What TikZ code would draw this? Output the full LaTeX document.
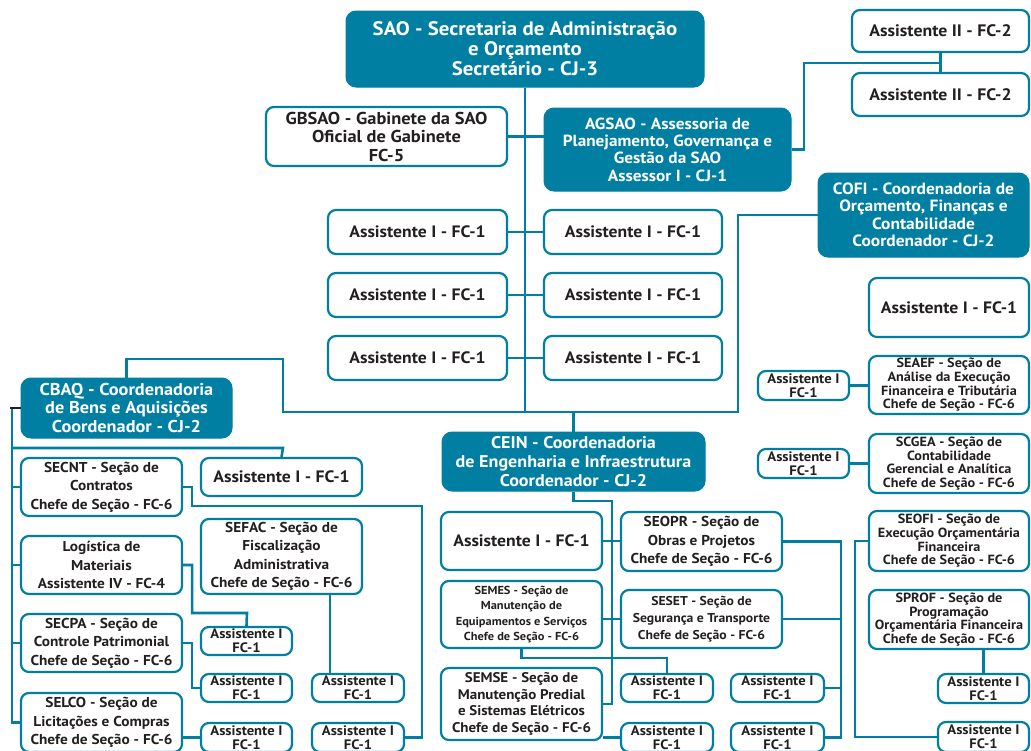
\documentclass[tikz,border=0pt]{standalone}
\usepackage{fontspec}
\setmainfont{PT Sans}[FakeStretch=1.07]
\usetikzlibrary{calc,backgrounds}
\definecolor{orgteal}{RGB}{0,127,163}
\definecolor{ink}{RGB}{35,31,32}

% box given by its corners (x1,y1)-(x2,y2), y measured downwards
\newcommand\orgbox[7]{%
  \pgfmathsetmacro\obW{#5-#3-2}\pgfmathsetmacro\obH{#6-#4-2}%
  \pgfmathsetmacro\obX{(#3+#5)/2}\pgfmathsetmacro\obY{(#4+#6)/2}%
  \node[#1, minimum width=\obW pt, minimum height=\obH pt] (#2) at (\obX,\obY) {#7};}
\newcommand\fs[2]{\fontsize{#1}{#2}\selectfont\bfseries}

\tikzset{
  wbox/.style={draw=orgteal, line width=2.2pt, rounded corners=8pt, fill=white,
    text=ink, align=center, inner sep=0pt},
  tbox/.style={draw=orgteal, line width=1pt, fill=orgteal, rounded corners=10pt,
    text=white, align=center, inner sep=0pt},
  link/.style={draw=orgteal, line width=2.6pt},
  big/.style={font=\fs{16.5}{19}},
  sec/.style={font=\fs{14.3}{18.5}},
  sub/.style={font=\fs{13.3}{13.7}},
  small/.style={font=\fs{13.7}{14}},
}

\begin{document}
\begin{tikzpicture}[x=1pt, y=-1pt]
\useasboundingbox (0,0) rectangle (1031,750);
\clip (0,0) rectangle (1031,750);

% ---- junction points of the connectors ----
\coordinate (hub) at (525,412);
\coordinate (cR) at (841,0);
\coordinate (cF) at (330,0);
\coordinate (cL) at (247,613);
\coordinate (cS) at (422,506);
\coordinate (cT) at (12,408);
\coordinate (cA) at (283,448);
\coordinate (cG) at (804,63);
\coordinate (cB) at (283,359);
\coordinate (cC) at (738,412);
\coordinate (cE) at (612,501);
\coordinate (cO) at (855,0);

% ---- top level ----
\orgbox{tbox, font=\fs{19.5}{20}}{sao}{345}{10}{705}{88}{SAO - Secretaria de Administração\\e Orçamento\\Secretário - CJ-3}
\orgbox{wbox, font=\fs{17.2}{18.5}}{gbsao}{265}{106}{508}{167}{GBSAO - Gabinete da SAO\\Oficial de Gabinete\\FC-5}
\orgbox{tbox, font=\fs{16.1}{17.3}}{agsao}{543}{107}{792}{192}{AGSAO - Assessoria de\\Planejamento, Governança e\\Gestão da SAO\\Assessor I - CJ-1}
\orgbox{wbox, font=\fs{16.6}{18}}{asA}{851}{9}{1030}{53}{Assistente II - FC-2}
\orgbox{wbox, font=\fs{16.6}{18}}{asB}{851}{72}{1030}{117}{Assistente II - FC-2}
\orgbox{tbox, font=\fs{16.3}{17.5}}{cofi}{817}{172}{1030}{258}{COFI - Coordenadoria de\\Orçamento, Finanças e\\Contabilidade\\Coordenador - CJ-2}
\orgbox{wbox, big}{asC}{868}{277}{1030}{338}{Assistente I - FC-1}

\orgbox{wbox, big}{a1l}{327}{209}{508}{255}{Assistente I - FC-1}
\orgbox{wbox, big}{a1r}{543}{209}{723}{255}{Assistente I - FC-1}
\orgbox{wbox, big}{a2l}{327}{272}{508}{318}{Assistente I - FC-1}
\orgbox{wbox, big}{a2r}{543}{272}{723}{318}{Assistente I - FC-1}
\orgbox{wbox, big}{a3l}{327}{335}{508}{381}{Assistente I - FC-1}
\orgbox{wbox, big}{a3r}{543}{335}{723}{381}{Assistente I - FC-1}

% ---- CBAQ ----
\orgbox{tbox, font=\fs{17.1}{18.5}}{cbaq}{20}{377}{233}{439}{CBAQ - Coordenadoria\\de Bens e Aquisições\\Coordenador - CJ-2}
\orgbox{wbox, big}{asq}{200}{457}{363}{497}{Assistente I - FC-1}
\orgbox{wbox, sec}{secnt}{20}{457}{183}{517}{SECNT - Seção de\\Contratos\\Chefe de Seção - FC-6}
\orgbox{wbox, sec}{logi}{20}{535}{183}{595}{Logística de\\Materiais\\Assistente IV - FC-4}
\orgbox{wbox, sec}{secpa}{20}{613}{183}{673}{SECPA - Seção de\\Controle Patrimonial\\Chefe de Seção - FC-6}
\orgbox{wbox, sec}{selco}{20}{692}{183}{753}{SELCO - Seção de\\Licitações e Compras\\Chefe de Seção - FC-6}
\orgbox{wbox, sec}{sefac}{200}{518}{363}{595}{SEFAC - Seção de\\Fiscalização\\Administrativa\\Chefe de Seção - FC-6}
\orgbox{wbox, small}{b1}{200}{626}{293}{656}{Assistente I\\FC-1}
\orgbox{wbox, small}{b2}{200}{673}{293}{703}{Assistente I\\FC-1}
\orgbox{wbox, small}{b3}{200}{722}{293}{753}{Assistente I\\FC-1}
\orgbox{wbox, small}{b4}{311}{673}{405}{703}{Assistente I\\FC-1}
\orgbox{wbox, small}{b5}{311}{722}{405}{753}{Assistente I\\FC-1}

% ---- CEIN ----
\orgbox{tbox, font=\fs{16.9}{19}}{cein}{441}{431}{706}{492}{CEIN - Coordenadoria\\de Engenharia e Infraestrutura\\Coordenador - CJ-2}
\orgbox{wbox, big}{asE}{440}{511}{603}{571}{Assistente I - FC-1}
\orgbox{wbox, font=\fs{11.6}{15.5}}{semes}{440}{580}{603}{649}{SEMES - Seção de\\Manutenção de\\Equipamentos e Serviços\\Chefe de Seção - FC-6}
\orgbox{wbox, font=\fs{14}{16.5}}{semse}{440}{667}{603}{741}{SEMSE - Seção de\\Manutenção Predial\\e Sistemas Elétricos\\Chefe de Seção - FC-6}
\orgbox{wbox, sec}{seopr}{620}{511}{783}{572}{SEOPR - Seção de\\Obras e Projetos\\Chefe de Seção - FC-6}
\orgbox{wbox, font=\fs{12.8}{17}}{seset}{620}{589}{783}{649}{SESET - Seção de\\Segurança e Transporte\\Chefe de Seção - FC-6}
\orgbox{wbox, small}{b6}{620}{673}{714}{703}{Assistente I\\FC-1}
\orgbox{wbox, small}{b7}{620}{722}{714}{753}{Assistente I\\FC-1}
\orgbox{wbox, small}{b8}{730}{673}{825}{703}{Assistente I\\FC-1}
\orgbox{wbox, small}{b9}{730}{722}{825}{753}{Assistente I\\FC-1}

% ---- COFI sections ----
\orgbox{wbox, sub}{seaef}{868}{355}{1030}{415}{SEAEF - Seção de\\Análise da Execução\\Financeira e Tributária\\Chefe de Seção - FC-6}
\orgbox{wbox, sub}{scgea}{868}{433}{1030}{494}{SCGEA - Seção de\\Contabilidade\\Gerencial e Analítica\\Chefe de Seção - FC-6}
\orgbox{wbox, sub}{seofi}{868}{510}{1030}{572}{SEOFI - Seção de\\Execução Orçamentária\\Financeira\\Chefe de Seção - FC-6}
\orgbox{wbox, sub}{sprof}{868}{589}{1030}{650}{SPROF - Seção de\\Programação\\Orçamentária Financeira\\Chefe de Seção - FC-6}
\orgbox{wbox, small}{ba}{757}{370}{850}{401}{Assistente I\\FC-1}
\orgbox{wbox, small}{bb}{757}{448}{850}{479}{Assistente I\\FC-1}
\orgbox{wbox, small}{bc}{937}{673}{1030}{704}{Assistente I\\FC-1}
\orgbox{wbox, small}{bd}{937}{721}{1030}{753}{Assistente I\\FC-1}

% ---- connectors, behind the boxes ----
\begin{scope}[on background layer]
\fill[white] (0,0) rectangle (1031,750);
% SAO trunk and its staff units
\draw[link] (sao.south) -- (sao.south |- hub);
\draw[link] (gbsao.east) -- (gbsao.east -| agsao.west);
\draw[link] (agsao.east) -| (cG) -| (asA.south);
\draw[link] (asA.south) -- (asB.north);
\draw[link] (a1l.east) -- (a1r.west);
\draw[link] (a2l.east) -- (a2r.west);
\draw[link] (a3l.east) -- (a3r.west);
% distribution to the coordinations
\draw[link] (cbaq.north) |- (cB) |- (cC) |- (cofi.west);
\draw[link] (cein.north) -- (cein.north |- hub);
% CBAQ
\draw[link] (cT) |- (selco.west);
\draw[link] (cT |- secnt.west) -- (secnt.west);
\draw[link] (cT |- logi.west) -- (logi.west);
\draw[link] (cT |- secpa.west) -- (secpa.west);
\draw[link] (cT |- cA) -- (cA) -- (asq.north);
\draw[link] (secnt.east) -- ++(9,0) |- (cS) |- (b5.east);
\draw[link] (logi.east) -- ++(9,0) |- (cL) -- (b1.north);
\draw[link] (secpa.east) -- ++(9,0) |- (b2.west);
\draw[link] (selco.east |- b3.west) -- (b3.west);
\draw[link] (sefac.south -| cF) -- (b4.north -| cF);
% CEIN
\draw[link] (cein.south) |- (cE) |- (semse.east);
\draw[link] (asE.east) -- (asE.east -| seopr.west);
\draw[link] (semes.east |- seset.west) -- (seset.west);
\draw[link] (semes.south) -- ++(0,9) -| (b6.north);
\draw[link] (semse.east |- b7.west) -- (b7.west);
\draw[link] (seopr.east) -| (cR |- b9.east) -- (b9.east);
\draw[link] (seset.east) -- (seset.east -| cR);
\draw[link] (b8.east) -- (b8.east -| cR);
% COFI
\draw[link] (ba.east) -- (ba.east -| seaef.west);
\draw[link] (bb.east) -- (bb.east -| scgea.west);
\draw[link] (seofi.west) -| (cO |- bd.west) -- (bd.west);
\draw[link] (sprof.south -| bc.north) -- (bc.north);
\end{scope}
% short dark tick at the CBAQ side
\draw[ink, line width=2pt] (cbaq.west) -- ++(-11,0);
\end{tikzpicture}
\end{document}
